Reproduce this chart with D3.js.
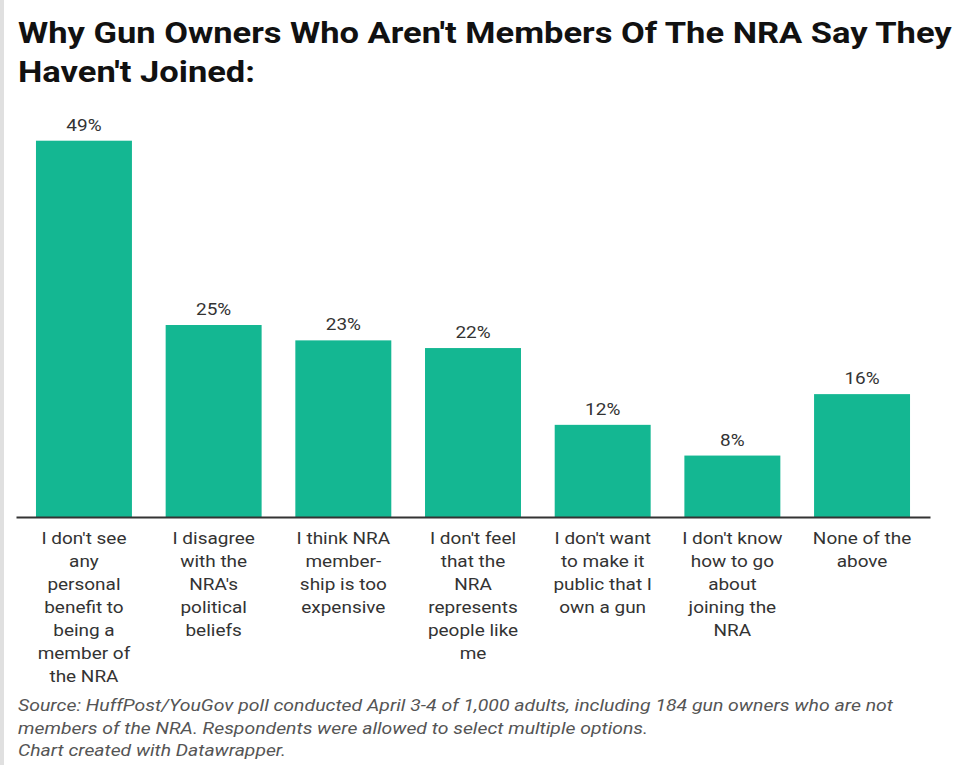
<!DOCTYPE html>
<html>
<head>
<meta charset="utf-8">
<script src="https://cdn.jsdelivr.net/npm/d3@7"></script>
<style>
  html, body { margin: 0; padding: 0; background: #fff; }
  svg { display: block; }
</style>
</head>
<body>
<svg id="chart" width="970" height="765"></svg>
<script>
const titleLines = ["Why Gun Owners Who Aren't Members Of The NRA Say They", "Haven't Joined:"];
const categories = [
  "I don't see|any|personal|benefit to|being a|member of|the NRA",
  "I disagree|with the|NRA's|political|beliefs",
  "I think NRA|member-|ship is too|expensive",
  "I don't feel|that the|NRA|represents|people like|me",
  "I don't want|to make it|public that I|own a gun",
  "I don't know|how to go|about|joining the|NRA",
  "None of the|above"
];
const values = [49, 25, 23, 22, 12, 8, 16];
const valueLabels = ["49%", "25%", "23%", "22%", "12%", "8%", "16%"];
const footerLines = [
  "Source: HuffPost/YouGov poll conducted April 3-4 of 1,000 adults, including 184 gun owners who are not",
  "members of the NRA. Respondents were allowed to select multiple options.",
  "Chart created with Datawrapper."
];

const svg = d3.select("#chart");
const font = "Roboto, 'Noto Sans', sans-serif";
const sx = 1.15; // horizontal stretch of the reference rendering

// left border
svg.append("rect").attr("x", 0).attr("y", 0).attr("width", 4).attr("height", 765).attr("fill", "#e0e0e0");

// title
svg.append("g").selectAll("text").data(titleLines).join("text")
  .attr("transform", (d, i) => `translate(18,${43 + i * 38.5}) scale(${sx},1)`)
  .attr("font-family", font).attr("font-weight", 700).attr("font-size", 30)
  .attr("fill", "#111").text(d => d);

const baseline = 517;
const x = d3.scaleBand().domain(d3.range(categories.length)).range([16, 930])
  .paddingInner(0.26).paddingOuter(0.154);
const y = d3.scaleLinear().domain([0, 49]).range([baseline, 140.7]);

svg.append("g").selectAll("rect").data(values).join("rect")
  .attr("x", (d, i) => x(i)).attr("width", x.bandwidth())
  .attr("y", d => y(d)).attr("height", d => baseline - y(d))
  .attr("fill", "#14b792");

svg.append("g").selectAll("text").data(values).join("text")
  .attr("transform", (d, i) => `translate(${x(i) + x.bandwidth() / 2},${y(d) - 10}) scale(${sx},1)`)
  .attr("text-anchor", "middle").attr("font-family", font).attr("font-size", 16.5)
  .attr("fill", "#333").text((d, i) => valueLabels[i]);

// axis
const xAxis = d3.axisBottom(x).tickSize(0).tickFormat("");
const ax = svg.append("g").attr("transform", `translate(0,${baseline})`).call(xAxis);
ax.select(".domain").attr("stroke", "#333").attr("stroke-width", 2);

// category labels
const lab = svg.append("g").selectAll("text").data(categories).join("text")
  .attr("transform", (d, i) => `translate(${x(i) + x.bandwidth() / 2},0) scale(${sx},1)`)
  .attr("text-anchor", "middle").attr("font-family", font).attr("font-size", 16.5)
  .attr("fill", "#333");
lab.each(function(d, i) {
  d3.select(this).selectAll("tspan").data(d.split("|")).join("tspan")
    .attr("x", 0)
    .attr("y", (t, j) => 544 + j * 23)
    .text(t => t);
});

// footer
const footerLens = [875, 630, 268];
svg.append("g").selectAll("text").data(footerLines).join("text")
  .attr("x", 18).attr("y", (d, i) => 711 + i * 22.5)
  .attr("font-family", font).attr("font-style", "italic").attr("font-size", 16.5)
  .attr("fill", "#555")
  .attr("textLength", (d, i) => footerLens[i]).attr("lengthAdjust", "spacingAndGlyphs")
  .text(d => d);
</script>
</body>
</html>
